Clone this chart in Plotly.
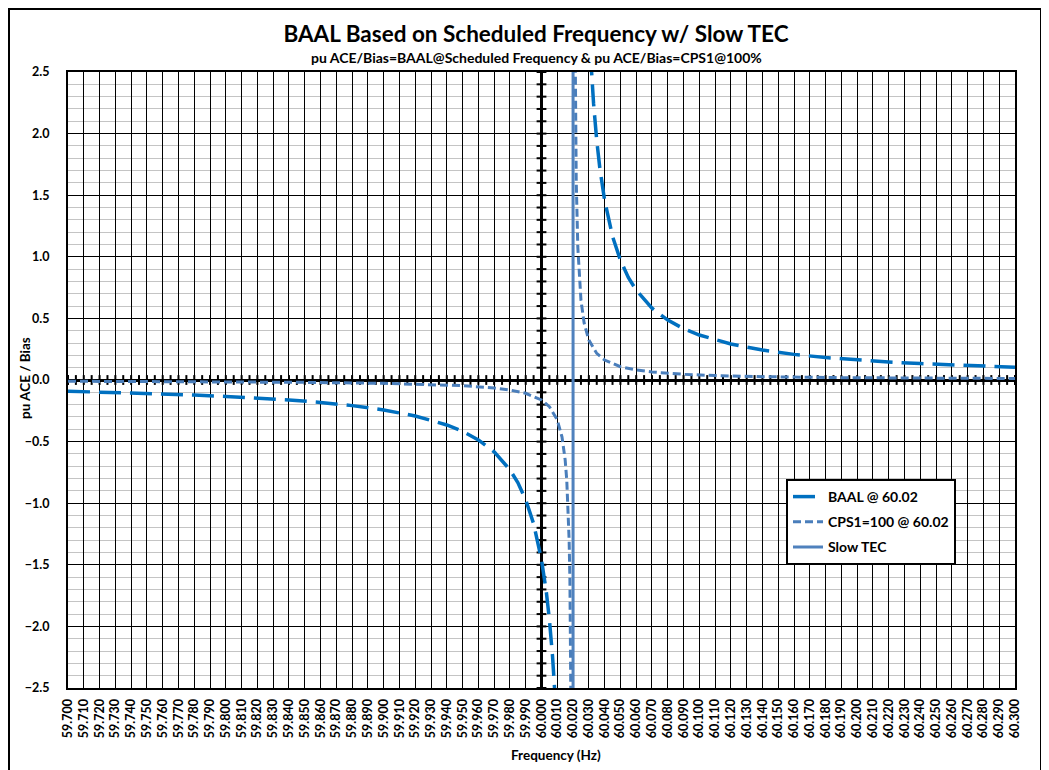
import numpy as np
import plotly.graph_objects as go

# ---------------- data ----------------
baal_low_freq = [59.700, 59.720, 59.740, 59.760, 59.780, 59.800, 59.820, 59.840, 59.860,
                 59.880, 59.900, 59.920, 59.940, 59.950, 59.960, 59.970, 59.980, 59.985,
                 59.990, 59.995, 60.000, 60.003, 60.005, 60.007, 60.009]
baal_low_pu = [-0.091, -0.097, -0.104, -0.112, -0.122, -0.133, -0.146, -0.162, -0.182,
               -0.208, -0.243, -0.292, -0.365, -0.417, -0.486, -0.583, -0.729, -0.833,
               -0.972, -1.166, -1.458, -1.715, -1.944, -2.243, -2.651]
baal_high_freq = [60.031, 60.032, 60.033, 60.035, 60.037, 60.040, 60.045, 60.050, 60.055,
                  60.060, 60.070, 60.080, 60.090, 60.100, 60.120, 60.140, 60.160, 60.180,
                  60.200, 60.220, 60.240, 60.260, 60.280, 60.300]
baal_high_pu = [2.651, 2.430, 2.243, 1.944, 1.715, 1.458, 1.166, 0.972, 0.833,
                0.729, 0.583, 0.486, 0.417, 0.365, 0.292, 0.243, 0.208, 0.182,
                0.162, 0.146, 0.133, 0.122, 0.112, 0.104]

cps1_low_freq = [59.700, 59.750, 59.800, 59.850, 59.900, 59.930, 59.950, 59.970, 59.980,
                 59.990, 60.000, 60.005, 60.010, 60.013, 60.015, 60.016, 60.017, 60.0175,
                 60.018, 60.0183, 60.0185, 60.019]
cps1_low_pu = [-0.010, -0.012, -0.015, -0.019, -0.027, -0.036, -0.046, -0.065, -0.081,
               -0.108, -0.162, -0.216, -0.324, -0.463, -0.648, -0.810, -1.080, -1.296,
               -1.620, -1.906, -2.160, -3.240]
cps1_high_freq = [60.021, 60.0215, 60.022, 60.023, 60.024, 60.025, 60.027, 60.030, 60.035,
                  60.040, 60.050, 60.060, 60.070, 60.090, 60.110, 60.140, 60.190, 60.240,
                  60.290, 60.300]
cps1_high_pu = [3.240, 2.160, 1.620, 1.080, 0.810, 0.648, 0.463, 0.324, 0.216,
                0.162, 0.108, 0.081, 0.065, 0.046, 0.036, 0.027, 0.019, 0.015,
                0.012, 0.012]

tec_freq = [60.020, 60.020]
tec_pu = [-2.5, 2.5]

title_text = "BAAL Based on Scheduled Frequency w/ Slow TEC"
subtitle_text = "pu ACE/Bias=BAAL@Scheduled Frequency &amp; pu ACE/Bias=CPS1@100%"
x_title = "Frequency (Hz)"
y_title = "pu ACE / Bias"

FONT = "Lato, 'Open Sans', sans-serif"

# page layout (the page body adds an 8px offset)
OFF = 8
W, H = 1049 - OFF, 770 - OFF
L, R, T, B = 68, 1015, 72, 688          # plot area in page pixels
pw, ph = R - L, B - T


def px(x):
    return (x - L) / pw


def py(y):
    return (B - y) / ph


fig = go.Figure()

# cross-style tick marks along the axes that cross at 60.000 / 0.0
xt = np.round(np.arange(59.7, 60.3001, 0.005), 3)
fig.add_trace(go.Scatter(x=xt, y=[0] * len(xt), mode="markers",
                         marker=dict(symbol="line-ns", size=7, line=dict(width=2, color="black")),
                         showlegend=False, hoverinfo="skip"))
yt = np.round(np.arange(-2.5, 2.5001, 0.1), 1)
fig.add_trace(go.Scatter(x=[60.0] * len(yt), y=yt, mode="markers",
                         marker=dict(symbol="line-ew", size=7, line=dict(width=2, color="black")),
                         showlegend=False, hoverinfo="skip"))

fig.add_trace(go.Scatter(
    x=baal_low_freq + [None] + baal_high_freq,
    y=baal_low_pu + [None] + baal_high_pu,
    mode="lines", name="BAAL @ 60.02", legendgroup="a",
    line=dict(color="#0070C0", width=3.5, dash="22px,9px")))
fig.add_trace(go.Scatter(
    x=cps1_low_freq + [None] + cps1_high_freq,
    y=cps1_low_pu + [None] + cps1_high_pu,
    mode="lines", name="CPS1=100 @ 60.02", legendgroup="b",
    line=dict(color="#4A7EBB", width=3, dash="8px,4px")))
fig.add_trace(go.Scatter(
    x=tec_freq, y=tec_pu, mode="lines", name="Slow TEC", legendgroup="c",
    line=dict(color="#4F81BD", width=3)))

# thick vertical axis at 60.000
fig.add_shape(type="line", xref="x", yref="y", x0=60.0, x1=60.0, y0=-2.5, y1=2.5,
              line=dict(color="black", width=3), layer="below")

# outer chart border
fig.add_shape(type="rect", xref="paper", yref="paper",
              x0=px(OFF + 1), x1=px(1041), y0=py(790), y1=py(OFF + 1),
              line=dict(color="black", width=2), fillcolor="rgba(0,0,0,0)")

fig.add_annotation(text=f"<b>{subtitle_text}</b>", xref="paper", yref="paper",
                   x=px(536), y=py(57), xanchor="center", yanchor="middle", showarrow=False,
                   font=dict(family=FONT, size=14, color="black"))
fig.add_annotation(text=f"<b>{x_title}</b>", xref="paper", yref="paper",
                   x=px(556), y=py(755), xanchor="center", yanchor="middle", showarrow=False,
                   font=dict(family=FONT, size=13.5, color="black"))
fig.add_annotation(text=f"<b>{y_title}</b>", xref="paper", yref="paper",
                   x=px(25), y=py(378), xanchor="center", yanchor="middle", showarrow=False,
                   textangle=-90,
                   font=dict(family=FONT, size=13.5, color="black"))

fig.update_layout(
    width=W, height=H,
    margin=dict(l=L - OFF, r=W - (R - OFF), t=T - OFF, b=H - (B - OFF)),
    paper_bgcolor="white", plot_bgcolor="white",
    title=dict(text=f"<b>{title_text}</b>", x=(536 - OFF) / W, xanchor="center",
               y=1 - (34 - OFF) / H, yanchor="middle",
               font=dict(family=FONT, size=22.5, color="black")),
    font=dict(family=FONT, color="black"),
    showlegend=True,
    legend=dict(x=px(786), y=py(479), xanchor="left", yanchor="top",
                bgcolor="white", bordercolor="black", borderwidth=2,
                font=dict(family=FONT, size=14, color="black", weight="bold"),
                tracegroupgap=4, traceorder="grouped", entrywidth=171),
    xaxis=dict(range=[59.7, 60.3], tick0=59.7, dtick=0.01, tickformat=".3f", tickangle=-90,
               tickfont=dict(family=FONT, size=12.5, color="black", weight="bold"),
               showgrid=True, gridcolor="black", gridwidth=1,
               showline=True, linecolor="black", linewidth=2, mirror=True,
               zeroline=False, ticks="", ticklabelstandoff=4),
    yaxis=dict(range=[-2.5, 2.5], tick0=-2.5, dtick=0.5, tickformat=".1f",
               tickfont=dict(family=FONT, size=12.5, color="black", weight="bold"),
               showgrid=True, gridcolor="black", gridwidth=1,
               minor=dict(dtick=0.1, showgrid=True, gridcolor="#C4C4C4", gridwidth=1),
               zeroline=True, zerolinecolor="black", zerolinewidth=3,
               showline=True, linecolor="black", linewidth=2, mirror=True,
               ticks="", ticklabelstandoff=14),
)

fig.write_html("out.html")
